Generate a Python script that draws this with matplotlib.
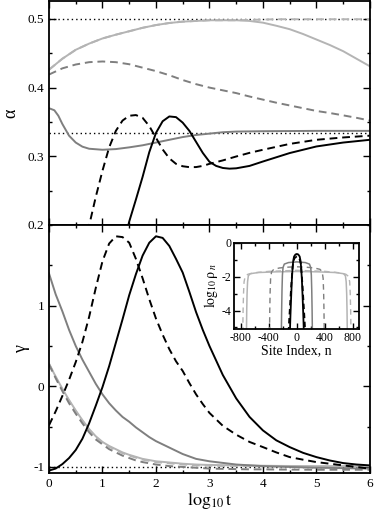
import numpy as np
import matplotlib
matplotlib.use('Agg')
import matplotlib.pyplot as plt
from matplotlib.ticker import MultipleLocator

plt.rcParams['font.family'] = ['Liberation Serif', 'DejaVu Serif']
plt.rcParams['mathtext.fontset'] = 'stix'
plt.rcParams['axes.unicode_minus'] = False

# ---------------- data ----------------
t_grid = [0, 0.25, 0.5, 0.75, 1, 1.25, 1.5, 1.75, 2, 2.25, 2.5, 2.75, 3,
          3.25, 3.5, 3.75, 4, 4.25, 4.5, 4.75, 5, 5.25, 5.5, 5.75, 6]
t_fine = [0, 0.125, 0.25, 0.375, 0.5, 0.625, 0.75, 0.875, 1, 1.125, 1.25, 1.375, 1.5,
          1.625, 1.75, 1.875, 2, 2.125, 2.25, 2.375, 2.5, 2.625, 2.75, 2.875, 3,
          3.25, 3.5, 3.75, 4, 4.25, 4.5, 4.75, 5, 5.25, 5.5, 5.75, 6]

# top panel: alpha
alpha_light = [0.426, 0.442, 0.455, 0.464, 0.4715, 0.477, 0.482, 0.487, 0.491, 0.494, 0.496, 0.497, 0.498,
               0.498, 0.498, 0.497, 0.4945, 0.490, 0.485, 0.478, 0.470, 0.462, 0.453, 0.442, 0.431]
alpha_light_dash = [0.426, 0.442, 0.455, 0.464, 0.4715, 0.477, 0.482, 0.487, 0.491, 0.494, 0.496, 0.497, 0.498,
                    0.498, 0.498, 0.4985, 0.499, 0.4995, 0.4995, 0.4995, 0.4995, 0.4995, 0.4995, 0.4995, 0.4995]
alpha_gray_dash = [0.419, 0.428, 0.4336, 0.437, 0.438, 0.437, 0.434, 0.429, 0.424, 0.418, 0.411, 0.405, 0.400,
                   0.396, 0.392, 0.387, 0.3825, 0.378, 0.374, 0.370, 0.366, 0.363, 0.3596, 0.356, 0.352]
t_gray = [0, 0.1, 0.175, 0.25, 0.375, 0.5, 0.625, 0.75, 1, 1.25, 1.5, 1.75, 2, 2.25, 2.5, 2.75, 3, 3.25, 3.5,
          4, 5, 6]
alpha_gray = [0.370, 0.367, 0.359, 0.347, 0.330, 0.320, 0.314, 0.311, 0.3095, 0.3105, 0.313, 0.316, 0.320,
              0.324, 0.328, 0.331, 0.333, 0.335, 0.336, 0.3365, 0.337, 0.337]
t_bdash_a = [0.5, 0.625, 0.75, 0.875, 1, 1.125, 1.25, 1.375, 1.5, 1.625, 1.75, 1.875, 2, 2.125, 2.25, 2.375,
             2.5, 2.625, 2.75, 2.875, 3, 3.25, 3.5, 3.75, 4, 4.5, 5, 5.5, 6]
alpha_black_dash = [0.10, 0.15, 0.199, 0.241, 0.279, 0.313, 0.337, 0.352, 0.359, 0.360, 0.356, 0.344, 0.327,
                    0.310, 0.297, 0.289, 0.2855, 0.2842, 0.2843, 0.286, 0.289, 0.294, 0.2997, 0.305, 0.3095,
                    0.318, 0.324, 0.3274, 0.330]
t_bsol_a = [1.25, 1.375, 1.5, 1.625, 1.75, 1.875, 2, 2.125, 2.25, 2.375, 2.5, 2.625, 2.75, 2.875, 3, 3.125,
            3.25, 3.375, 3.5, 3.75, 4, 4.5, 5, 5.5, 6]
alpha_black = [0.12, 0.165, 0.205, 0.237, 0.270, 0.306, 0.334, 0.351, 0.358, 0.357, 0.349, 0.337, 0.321,
               0.305, 0.292, 0.286, 0.283, 0.282, 0.2825, 0.286, 0.2924, 0.3047, 0.3143, 0.320, 0.324]
alpha_refs = [0.5, 1 / 3]

# bottom panel: gamma (on t_fine)
gamma_black = [-1.045, -1.02, -0.965, -0.89, -0.79, -0.65, -0.46, -0.24, -0.01, 0.25, 0.54, 0.83, 1.13,
               1.39, 1.62, 1.78, 1.86, 1.84, 1.74, 1.58, 1.41, 1.17, 0.92, 0.70, 0.50,
               0.14, -0.15, -0.38, -0.547, -0.67, -0.754, -0.825, -0.878, -0.92, -0.952, -0.97, -0.981]
gamma_black_dash = [-0.484, -0.31, -0.12, 0.08, 0.30, 0.55, 0.86, 1.22, 1.55, 1.77, 1.86, 1.85, 1.78,
                    1.58, 1.34, 1.08, 0.84, 0.64, 0.46, 0.31, 0.19, 0.04, -0.10, -0.22, -0.33,
                    -0.49, -0.60, -0.69, -0.754, -0.82, -0.878, -0.91, -0.94, -0.96, -0.981, -1.0, -1.022]
gamma_gray = [1.40, 1.14, 0.93, 0.70, 0.50, 0.33, 0.18, 0.03, -0.10, -0.21, -0.30, -0.38, -0.44,
              -0.51, -0.57, -0.63, -0.68, -0.72, -0.76, -0.80, -0.84, -0.87, -0.90, -0.915, -0.93,
              -0.95, -0.97, -0.98, -0.99, -0.995, -1.0, -1.005, -1.01, -1.012, -1.015, -1.018, -1.02]
gamma_light = [0.28, 0.12, -0.03, -0.17, -0.30, -0.42, -0.53, -0.62, -0.69, -0.74, -0.78, -0.82, -0.85,
               -0.875, -0.90, -0.915, -0.93, -0.937, -0.945, -0.952, -0.96, -0.965, -0.97, -0.973, -0.975,
               -0.978, -0.98, -0.982, -0.985, -0.987, -0.988, -0.989, -0.99, -0.99, -0.99, -0.99, -0.99]
gamma_light_dash = [0.28, 0.115, -0.04, -0.18, -0.31, -0.43, -0.54, -0.63, -0.70, -0.75, -0.79, -0.83, -0.86,
                    -0.885, -0.91, -0.925, -0.94, -0.948, -0.955, -0.962, -0.97, -0.975, -0.98, -0.983, -0.985,
                    -0.988, -0.99, -0.992, -0.994, -0.995, -0.996, -0.997, -0.998, -0.998, -0.998, -0.998, -0.998]
gamma_gray_dash = [0.27, 0.10, -0.06, -0.21, -0.34, -0.46, -0.57, -0.66, -0.72, -0.78, -0.82, -0.86, -0.89,
                   -0.92, -0.94, -0.955, -0.97, -0.98, -0.99, -0.995, -1.0, -1.005, -1.01, -1.015, -1.02,
                   -1.024, -1.027, -1.03, -1.03, -1.032, -1.033, -1.034, -1.035, -1.035, -1.035, -1.035, -1.035]
gamma_ref = -1

# inset: log10 rho_n vs site index n
n_black = [-100, -92, -82, -72, -62, -52, -40, -20, 0, 20, 40, 52, 62, 72, 82, 92, 100]
rho_black = [-5.3, -4.3, -3.2, -2.2, -1.5, -1.05, -0.8, -0.68, -0.65, -0.68, -0.8, -1.05, -1.5, -2.2, -3.2, -4.3, -5.3]
n_black_dash = [-120, -108, -95, -82, -68, -55, -35, 0, 35, 55, 68, 82, 95, 108, 120]
rho_black_dash = [-5.3, -4.4, -3.5, -2.6, -1.8, -1.2, -0.9, -0.8, -0.9, -1.2, -1.8, -2.6, -3.5, -4.4, -5.3]
n_gray = [-222, -218, -213, -207, -198, -180, -120, 0, 120, 180, 198, 207, 213, 218, 222]
rho_gray = [-5.3, -4.0, -2.8, -1.9, -1.45, -1.25, -1.16, -1.12, -1.16, -1.25, -1.45, -1.9, -2.8, -4.0, -5.3]
n_gray_dash = [-392, -388, -383, -376, -362, -330, -250, -120, 0, 120, 250, 330, 362, 376, 383, 388, 392]
rho_gray_dash = [-5.3, -4.0, -2.9, -2.1, -1.7, -1.56, -1.48, -1.43, -1.41, -1.43, -1.48, -1.56, -1.7, -2.1, -2.9,
                 -4.0, -5.3]
n_light = [-722, -718, -713, -706, -695, -670, -550, -300, 0, 300, 550, 670, 695, 706, 713, 718, 722]
rho_light = [-5.3, -4.0, -3.0, -2.3, -1.95, -1.82, -1.75, -1.71, -1.69, -1.71, -1.75, -1.82, -1.95, -2.3, -3.0,
             -4.0, -5.3]
n_light_dash = [-775, -770, -764, -756, -740, -700, -600, -400, 0, 400, 600, 700, 740, 756, 764, 770, 775]
rho_light_dash = [-5.3, -4.0, -3.0, -2.3, -1.98, -1.85, -1.76, -1.68, -1.62, -1.68, -1.76, -1.85, -1.98, -2.3,
                  -3.0, -4.0, -5.3]

# ---------------- styles ----------------
BLACK = 'black'
GRAY = '#7f7f7f'
LIGHT = '#b4b4b4'
DASH = (0, (4, 2.5))

fig = plt.figure(figsize=(3.74, 5.11), dpi=100)
ax1 = fig.add_axes([0.131, 0.5597, 0.858, 0.4383])
ax2 = fig.add_axes([0.131, 0.0744, 0.858, 0.4853])


def style(ax, fs=9.5, maj=5, mino=2.5):
    ax.tick_params(which='both', direction='in', top=True, right=True, labelsize=fs, width=1)
    ax.tick_params(which='major', length=maj)
    ax.tick_params(which='minor', length=mino)
    for s in ax.spines.values():
        s.set_linewidth(1.3)


# top panel
for y in alpha_refs:
    ax1.axhline(y, color='black', lw=1.0, ls=(0, (1, 2.2)))
ax1.plot(t_grid, alpha_light, color=LIGHT, lw=1.4)
ax1.plot(t_grid, alpha_light_dash, color=LIGHT, lw=1.4, ls=DASH)
ax1.plot(t_grid, alpha_gray_dash, color=GRAY, lw=1.4, ls=DASH)
ax1.plot(t_gray, alpha_gray, color=GRAY, lw=1.4)
ax1.plot(t_bdash_a, alpha_black_dash, color=BLACK, lw=1.4, ls=DASH)
ax1.plot(t_bsol_a, alpha_black, color=BLACK, lw=1.4)
ax1.set_xlim(0, 6)
ax1.set_ylim(0.2, 0.526)
ax1.xaxis.set_major_locator(MultipleLocator(1))
ax1.xaxis.set_minor_locator(MultipleLocator(0.5))
ax1.yaxis.set_minor_locator(MultipleLocator(0.05))
ax1.set_xticklabels([])
ax1.set_yticks([0.2, 0.3, 0.4, 0.5])
ax1.set_yticklabels(['0.2', '0.3', '0.4', '0.5'])
ax1.set_ylabel('α', fontsize=13, labelpad=6)
style(ax1)

# bottom panel
ax2.axhline(gamma_ref, color='black', lw=1.0, ls=(0, (1, 2.2)))
ax2.plot(t_fine, gamma_light, color=LIGHT, lw=1.4)
ax2.plot(t_fine, gamma_light_dash, color=LIGHT, lw=1.4, ls=DASH)
ax2.plot(t_fine, gamma_gray_dash, color=GRAY, lw=1.4, ls=DASH)
ax2.plot(t_fine, gamma_gray, color=GRAY, lw=1.4)
ax2.plot(t_fine, gamma_black_dash, color=BLACK, lw=1.4, ls=DASH)
ax2.plot(t_fine, gamma_black, color=BLACK, lw=1.4)
ax2.set_xlim(0, 6)
ax2.set_ylim(-1.075, 2.0)
ax2.xaxis.set_minor_locator(MultipleLocator(0.5))
ax2.set_yticks([-1, 0, 1])
ax2.set_yticklabels(['-1', '0', '1'])
ax2.yaxis.set_minor_locator(MultipleLocator(0.5))
ax2.set_xticks(range(7))
ax2.set_xticklabels([str(i) for i in range(7)])
ax2.set_xlabel(r'$\mathrm{log}_{10}\,\mathrm{t}$', fontsize=13, labelpad=1)
ax2.set_ylabel('γ', fontsize=13, labelpad=2)
style(ax2)

# inset
ax3 = fig.add_axes([0.6257, 0.356, 0.3343, 0.1685])
ax3.plot(n_light_dash, rho_light_dash, color=LIGHT, lw=1.0, ls=(0, (4, 3)))
ax3.plot(n_light, rho_light, color=LIGHT, lw=1.1)
ax3.plot(n_gray_dash, rho_gray_dash, color=GRAY, lw=1.0, ls=(0, (4, 3)))
ax3.plot(n_gray, rho_gray, color=GRAY, lw=1.1)
ax3.plot(n_black_dash, rho_black_dash, color=BLACK, lw=1.3, ls=(0, (3, 2)))
ax3.plot(n_black, rho_black, color=BLACK, lw=1.3)
ax3.set_xlim(-900, 890)
ax3.set_ylim(-5.1, 0)
ax3.set_xticks([-800, -400, 0, 400, 800])
ax3.set_xticklabels(['-800', '-400', '0', '400', '800'])
ax3.xaxis.set_minor_locator(MultipleLocator(200))
ax3.set_yticks([0, -2, -4])
ax3.set_yticklabels(['0', '-2', '-4'])
ax3.yaxis.set_minor_locator(MultipleLocator(1))
ax3.set_xlabel('Site Index, n', fontsize=10, labelpad=0)
ax3.set_ylabel(r'$\mathrm{log}_{10}\,\mathrm{\rho}_{\,n}$', fontsize=10, labelpad=1)
style(ax3, fs=8.5, maj=4, mino=2)
ax3.tick_params(pad=2)

fig.savefig('out.png', dpi=100)
